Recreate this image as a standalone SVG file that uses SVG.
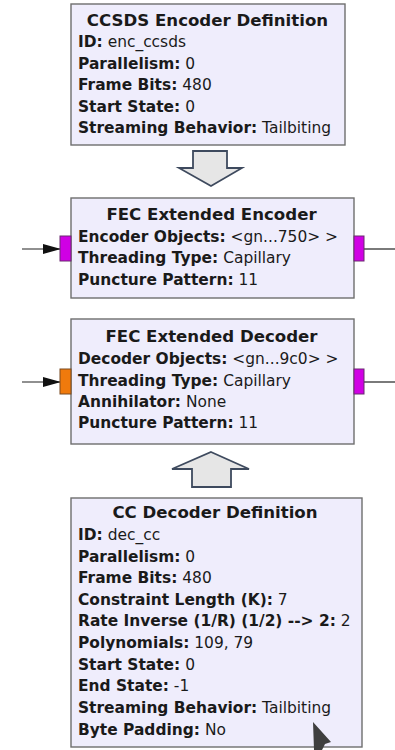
<svg xmlns="http://www.w3.org/2000/svg" width="395" height="750" viewBox="0 0 395 750">
<style>
.blk{fill:#EFEDFC;stroke:#6E6E6E;stroke-width:1.4}
text{font-family:"DejaVu Sans",sans-serif;font-size:15.45px;fill:#1A1A1A}
.t{font-weight:bold;font-size:16.6px;text-anchor:middle}
.b{font-weight:bold}
.pm{fill:#D000E4;stroke:#6A2A70;stroke-width:1}
.po{fill:#F07A0C;stroke:#7A4A20;stroke-width:1}
.wire{stroke:#222;stroke-width:1.2;fill:none}
.ba{fill:#E6E6E6;stroke:#3E4A5E;stroke-width:1.8;stroke-linejoin:miter}
</style>
<defs>
<marker id="ah" markerWidth="18" markerHeight="10" refX="17" refY="5" orient="auto" markerUnits="userSpaceOnUse">
<path d="M0,0 L18,5 L0,10 Z" fill="#111"/>
</marker>
</defs>
<rect width="395" height="750" fill="#FFFFFF"/>
<g id="connectors">
<path class="wire" d="M22,249 H60" marker-end="url(#ah)"/>
<path class="wire" d="M364,249 H395"/>
<path class="wire" d="M22,382 H60" marker-end="url(#ah)"/>
<path class="wire" d="M364,382 H395"/>
<polygon class="ba" points="193,151 227,151 227,168 242,168 211,186 179,168 193,168"/>
<polygon class="ba" points="211,452 249,469 231,469 231,487 192,487 192,469 172,469"/>
</g>
<g id="ccsds_encoder">
<rect class="blk" x="71" y="4" width="274" height="141"/>
<text class="t" x="207.5" y="26">CCSDS Encoder Definition</text>
<text x="78" y="47"><tspan class="b">ID:</tspan> enc_ccsds</text>
<text x="78" y="69"><tspan class="b">Parallelism:</tspan> 0</text>
<text x="78" y="90"><tspan class="b">Frame Bits:</tspan> 480</text>
<text x="78" y="112"><tspan class="b">Start State:</tspan> 0</text>
<text x="78" y="133"><tspan class="b">Streaming Behavior:</tspan> Tailbiting</text>
</g>
<g id="fec_encoder">
<rect class="blk" x="71" y="198" width="283" height="100"/>
<rect class="pm" x="60" y="236" width="11" height="25"/>
<rect class="pm" x="354" y="236" width="10" height="25"/>
<text class="t" x="211.5" y="220">FEC Extended Encoder</text>
<text x="78" y="242"><tspan class="b">Encoder Objects:</tspan> &lt;gn...750&gt; &gt;</text>
<text x="78" y="263"><tspan class="b">Threading Type:</tspan> Capillary</text>
<text x="78" y="285"><tspan class="b">Puncture Pattern:</tspan> 11</text>
</g>
<g id="fec_decoder">
<rect class="blk" x="71" y="319" width="283" height="125"/>
<rect class="po" x="60" y="369" width="11" height="25"/>
<rect class="pm" x="354" y="369" width="10" height="25"/>
<text class="t" x="211.5" y="342">FEC Extended Decoder</text>
<text x="78" y="364"><tspan class="b">Decoder Objects:</tspan> &lt;gn...9c0&gt; &gt;</text>
<text x="78" y="386"><tspan class="b">Threading Type:</tspan> Capillary</text>
<text x="78" y="407"><tspan class="b">Annihilator:</tspan> None</text>
<text x="78" y="428"><tspan class="b">Puncture Pattern:</tspan> 11</text>
</g>
<g id="cc_decoder">
<rect class="blk" x="71" y="498" width="291" height="249"/>
<text class="t" x="215" y="518">CC Decoder Definition</text>
<text x="78" y="540"><tspan class="b">ID:</tspan> dec_cc</text>
<text x="78" y="562"><tspan class="b">Parallelism:</tspan> 0</text>
<text x="78" y="583"><tspan class="b">Frame Bits:</tspan> 480</text>
<text x="78" y="605"><tspan class="b">Constraint Length (K):</tspan> 7</text>
<text x="78" y="626"><tspan class="b">Rate Inverse (1/R) (1/2) --&gt; 2:</tspan> 2</text>
<text x="78" y="648"><tspan class="b">Polynomials:</tspan> 109, 79</text>
<text x="78" y="670"><tspan class="b">Start State:</tspan> 0</text>
<text x="78" y="691"><tspan class="b">End State:</tspan> -1</text>
<text x="78" y="713"><tspan class="b">Streaming Behavior:</tspan> Tailbiting</text>
<text x="78" y="735"><tspan class="b">Byte Padding:</tspan> No</text>
</g>
<polygon points="313,722 331,742 325,744 322,750 314,750" fill="#3F3F3F"/>
</svg>
